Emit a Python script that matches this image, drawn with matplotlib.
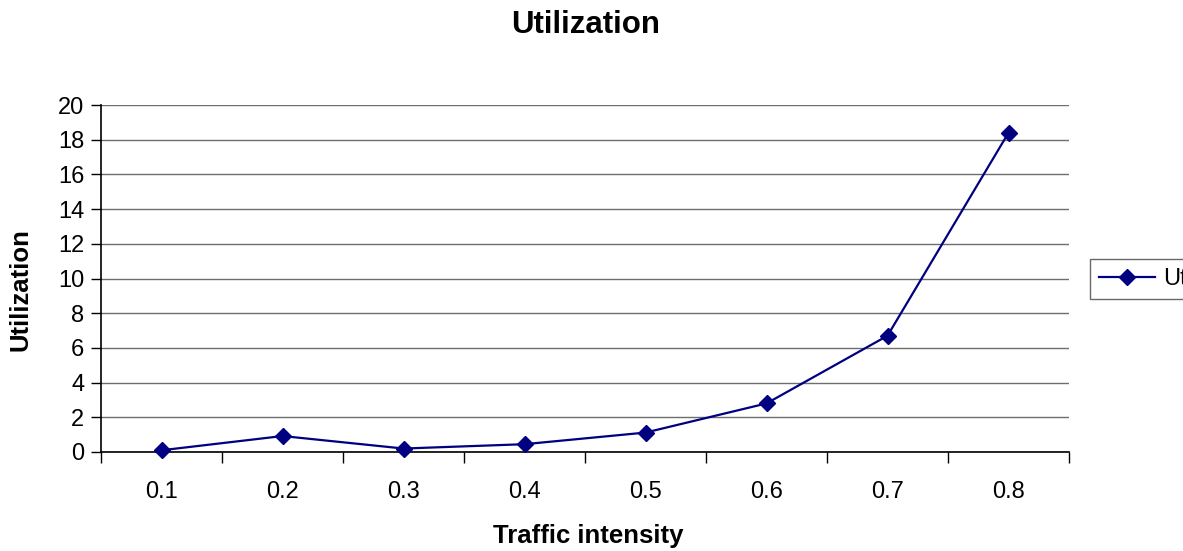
import numpy as np
import matplotlib.pyplot as plt

# traffic intensity categories and measured utilization
intensity = ["0.1", "0.2", "0.3", "0.4", "0.5", "0.6", "0.7", "0.8"]
utilization = [0.1, 0.92, 0.2, 0.45, 1.12, 2.8, 6.7, 18.4]
y_ticks = [0, 2, 4, 6, 8, 10, 12, 14, 16, 18, 20]

plt.rcParams["font.family"] = ["Liberation Sans", "DejaVu Sans"]

fig = plt.figure(figsize=(11.83, 5.51), dpi=100)
ax = fig.add_axes([101 / 1183, 99 / 551, 968 / 1183, 347 / 551])

x = np.arange(len(intensity))
ax.plot(x, utilization, color="#000080", lw=1.6, marker="D", ms=8.5,
        label="Utilization", clip_on=False, zorder=3)

ax.set_xlim(-0.5, len(intensity) - 0.5)
ax.set_ylim(0, 20)
ax.set_yticks(y_ticks)
ax.set_xticks(x)
ax.set_xticklabels(intensity)
ax.set_xticks(np.arange(len(intensity) + 1) - 0.5, minor=True)

ax.tick_params(axis="x", which="major", length=0, pad=21, labelsize=17)
ax.tick_params(axis="x", which="minor", length=8, width=1, direction="out")
ax.tick_params(axis="y", length=7, width=1, direction="out", pad=5, labelsize=17)

ax.grid(axis="y", color="#6e6e6e", lw=1)
ax.set_axisbelow(True)
for s in ["top", "right"]:
    ax.spines[s].set_visible(False)
for s in ["left", "bottom"]:
    ax.spines[s].set_linewidth(1.2)
    ax.spines[s].set_zorder(2.5)

fig.text(586 / 1183, 1 - 25 / 551, "Utilization", ha="center", va="center",
         fontsize=22.5, fontweight="bold")
fig.text(588 / 1183, 1 - 536 / 551, "Traffic intensity", ha="center", va="center",
         fontsize=18.5, fontweight="bold")
fig.text(21 / 1183, 1 - 290 / 551, "Utilization", ha="center", va="center",
         rotation=90, fontsize=18.5, fontweight="bold")

leg = fig.legend(loc="center left", bbox_to_anchor=(1090 / 1183, 1 - 279 / 551),
                 fontsize=17, handlelength=2.35, frameon=True, fancybox=False,
                 borderpad=0.4, handletextpad=0.35, borderaxespad=0)
leg.get_frame().set_edgecolor("#444444")
leg.get_frame().set_linewidth(1)

fig.savefig("out.png", dpi=100)
